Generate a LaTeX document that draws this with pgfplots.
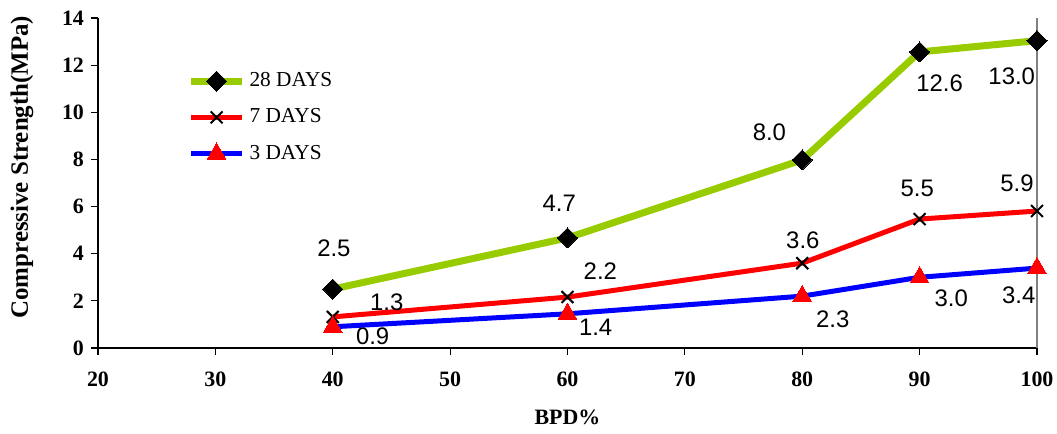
\documentclass[border=0pt]{standalone}
\usepackage{fontspec}
\setmainfont{Liberation Serif}
\newfontfamily\arial{Liberation Sans}
\usepackage{pgfplots}
\pgfplotsset{compat=1.18}
\definecolor{lgreen}{RGB}{153,204,0}
\begin{document}
\begin{tikzpicture}
\begin{axis}[
  at={(0,0)}, anchor=south west,
  scale only axis, width=469.5bp, height=165bp,
  xmin=20, xmax=100, ymin=0, ymax=14,
  xtick={20,30,...,100}, ytick={0,2,...,14},
  axis lines*=left,
  axis line style={black, line width=0.6bp},
  tick align=outside, major tick length=3.5bp,
  tick style={black, line width=0.6bp},
  /pgf/number format/assume math mode=true,
  ticklabel style={font=\fontsize{11}{12}\selectfont\bfseries},
  xticklabel style={yshift=-5bp},
  xlabel={BPD\%}, ylabel={Compressive Strength(MPa)},
  xlabel style={font=\fontsize{11}{12}\selectfont\bfseries, at={(axis description cs:0.5,-0.209)}, anchor=center},
  ylabel style={font=\fontsize{12.5}{13}\selectfont\bfseries, at={(axis description cs:-0.081,0.548)}, anchor=center, rotate=0},
  legend style={at={(rel axis cs:0.095,0.848)}, anchor=north west, draw=none, fill=none,
    font=\fontsize{10.7}{12}\selectfont, row sep=5.6bp, inner sep=0pt},
  legend cell align=left,
  legend image code/.code={\draw[mark repeat=2,mark phase=2,#1] plot coordinates {(0bp,0bp)(12.75bp,0bp)(25.5bp,0bp)};},
  clip=false,
]
\addplot[lgreen, line width=3.5bp, mark=square*, mark size=3.54bp, mark options={rotate=45, black, fill=black, line width=0pt}]
  coordinates {(40,2.5)(60,4.67)(80,7.98)(90,12.56)(100,13.04)};
\addlegendentry{28 DAYS}
\addplot[red, line width=2.5bp, mark=x, mark size=4.2bp, mark options={black, line width=1bp}]
  coordinates {(40,1.32)(60,2.16)(80,3.6)(90,5.47)(100,5.81)};
\addlegendentry{7 DAYS}
\addplot[blue, line width=2.5bp, mark=triangle*, mark size=5.4bp, mark options={red, fill=red, line width=0pt}]
  coordinates {(40,0.9)(60,1.45)(80,2.2)(90,3.0)(100,3.39)};
\addlegendentry{3 DAYS}
\draw[gray, line width=0.6bp] (rel axis cs:1,0) -- (rel axis cs:1,1);
\begin{scope}[every node/.style={font=\fontsize{12}{13}\selectfont\arial, inner sep=0pt}]
\node at (axis cs:40.1,4.24) {2.5};
\node at (axis cs:59.3,6.15) {4.7};
\node at (axis cs:77.2,9.16) {8.0};
\node at (axis cs:91.7,11.24) {12.6};
\node at (axis cs:97.85,11.54) {13.0};
\node at (axis cs:44.6,1.95) {1.3};
\node at (axis cs:62.8,3.27) {2.2};
\node at (axis cs:80.05,4.58) {3.6};
\node at (axis cs:89.8,6.79) {5.5};
\node at (axis cs:98.3,7.0) {5.9};
\node at (axis cs:43.4,0.51) {0.9};
\node at (axis cs:62.4,0.89) {1.4};
\node at (axis cs:82.6,1.23) {2.3};
\node at (axis cs:92.7,2.12) {3.0};
\node at (axis cs:98.45,2.25) {3.4};
\end{scope}
\end{axis}
\pgfresetboundingbox
\path[use as bounding box] (-49bp,-43bp) rectangle (479.5bp,174bp);
\end{tikzpicture}
\end{document}
